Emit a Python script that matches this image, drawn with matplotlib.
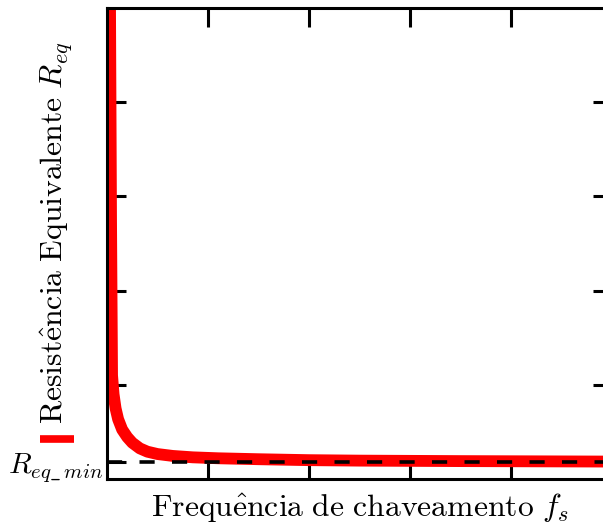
import matplotlib
matplotlib.use('Agg')
import matplotlib.pyplot as plt
from matplotlib.lines import Line2D

plt.rcParams['mathtext.fontset'] = 'cm'
plt.rcParams['font.family'] = 'serif'

##### Data (axis units 0..1) #####
fs = [0.006, 0.008, 0.010, 0.013, 0.017, 0.022, 0.030, 0.040, 0.050, 0.065,
      0.080, 0.100, 0.130, 0.170, 0.220, 0.300, 0.400, 0.500, 0.700, 1.000]
req = [1.000, 0.550, 0.220, 0.180, 0.150, 0.127, 0.105, 0.089, 0.077, 0.065,
       0.058, 0.053, 0.049, 0.046, 0.044, 0.042, 0.040, 0.039, 0.038, 0.037]
req_min = 0.036
xticks = [0.2, 0.4, 0.6, 0.8]
yticks = [req_min, 0.2, 0.4, 0.6, 0.8]
ytick_labels = [r'$R_{eq\_\,min}$', '', '', '', '']

fig = plt.figure(figsize=(6.03, 5.26), dpi=100)
ax = fig.add_axes([107/603, 1 - 479/526, 505/603, 471/526])

ax.plot(fs, req, color='red', lw=8.5, solid_capstyle='butt', zorder=2)
ax.axhline(req_min, color='black', lw=2.6, dashes=(4.2, 4.8), zorder=3)

ax.set_xlim(0, 1)
ax.set_ylim(0, 1)
ax.set_xticks(xticks)
ax.set_xticklabels([])
ax.set_yticks(yticks)
ax.set_yticklabels(ytick_labels, fontsize=21.5)
ax.tick_params(direction='in', length=13.5, width=2.2, top=True, right=True, pad=2.5)
for s in ax.spines.values():
    s.set_linewidth(2.2)
    s.set_zorder(4)

ax.set_xlabel(r'$\mathrm{Frequ\hat{e}ncia\ de\ chaveamento}\ f_s$', fontsize=22.8, labelpad=6)
ax.set_ylabel(r'$\mathrm{Resist\hat{e}ncia\ Equivalente}\ R_{eq}$', fontsize=22.8)
ax.yaxis.set_label_coords(-0.063, 0.522)

# stray legend handle (no label) left of the y label
handle = Line2D([], [], color='red', lw=5.5, solid_capstyle='butt')
fig.legend([handle], [''], loc='center', bbox_to_anchor=(57/603, 1 - 441/526),
           frameon=False, handlelength=1.2, handletextpad=0, borderpad=0,
           borderaxespad=0, fontsize=20)

fig.savefig('out.png', dpi=100)
